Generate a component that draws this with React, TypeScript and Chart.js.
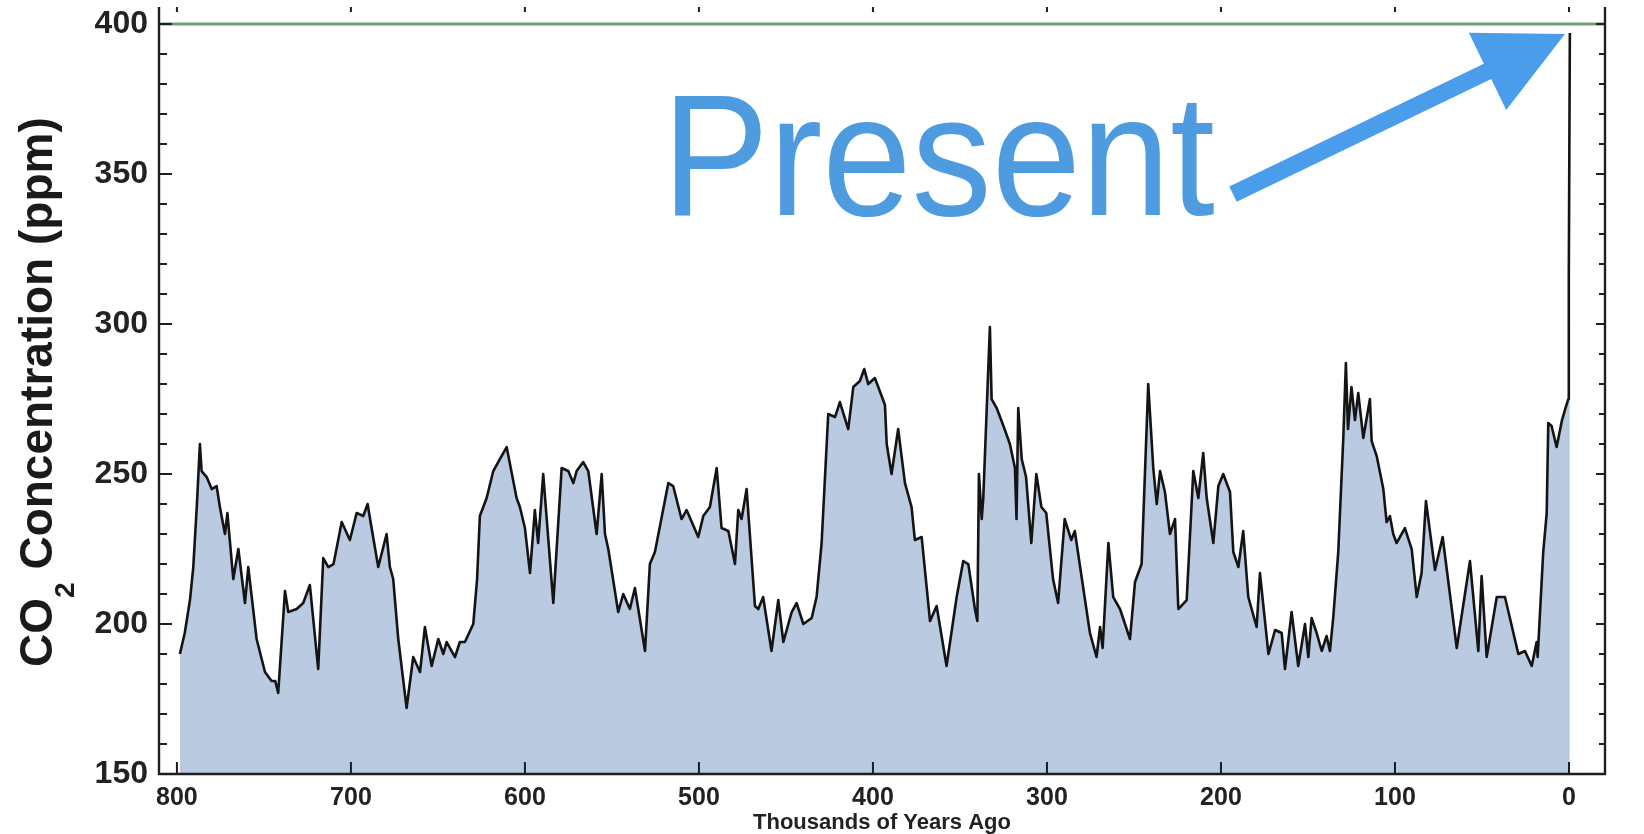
import React, { useEffect, useRef } from 'react';
import { Chart, registerables } from 'chart.js';

Chart.register(...registerables);

// ---- Data (thousands of years ago, CO2 ppm) ----
const AGES_KYR = [
  798.3, 795.5, 792.5, 790.6, 788.5, 786.8, 785.8, 782.9, 780.0, 777.2,
  775.3, 772.4, 771.0, 767.6, 764.7, 760.9, 759.0, 754.2, 749.4, 745.6,
  743.5, 741.8, 737.9, 736.0, 731.2, 727.4, 723.6, 718.8, 715.9, 713.0,
  710.0, 705.3, 700.6, 696.7, 692.9, 690.4, 689.0, 684.3, 679.5, 677.6,
  675.7, 672.8, 668.0, 664.2, 660.3, 657.5, 653.6, 649.8, 646.9, 645.0,
  640.2, 637.4, 634.5, 629.7, 627.5, 625.9, 622.0, 618.2, 614.4, 610.5,
  604.8, 602.9, 600.0, 597.1, 594.3, 592.4, 589.5, 583.7, 578.9, 575.1,
  572.2, 570.3, 566.5, 563.6, 558.8, 555.9, 554.0, 552.1, 546.4, 543.5,
  539.7, 536.8, 531.0, 528.2, 525.3, 517.6, 514.8, 510.0, 507.1, 500.4,
  497.5, 493.7, 489.8, 487.0, 483.1, 479.3, 477.4, 475.5, 472.6, 467.8,
  465.9, 463.1, 458.3, 454.4, 451.5, 446.7, 443.9, 440.0, 435.2, 432.4,
  429.5, 425.7, 421.8, 419.0, 414.2, 411.3, 407.5, 405.0, 402.7, 398.9,
  395.0, 393.1, 392.1, 389.3, 385.5, 381.6, 377.8, 375.9, 372.0, 367.2,
  363.4, 357.7, 351.9, 348.1, 345.2, 341.4, 340.0, 339.1, 337.5, 336.6,
  332.8, 331.8, 328.9, 325.0, 321.3, 318.4, 317.5, 316.5, 314.5, 312.0,
  309.0, 306.1, 303.2, 300.4, 296.5, 293.6, 289.8, 286.0, 284.0, 275.3,
  271.5, 269.5, 268.0, 264.7, 261.9, 258.0, 252.3, 249.4, 245.6, 241.8,
  238.9, 236.9, 235.0, 232.2, 229.3, 226.4, 224.5, 219.7, 215.9, 213.0,
  210.2, 208.2, 204.4, 201.5, 198.7, 194.8, 192.9, 190.0, 187.2, 184.3,
  179.5, 177.6, 172.7, 168.9, 165.1, 163.2, 159.4, 155.6, 151.7, 149.8,
  147.9, 145.0, 142.1, 139.3, 137.4, 135.5, 132.6, 129.7, 128.2, 127.0,
  125.0, 123.0, 121.1, 118.2, 114.4, 113.4, 110.5, 106.7, 104.8, 102.9,
  101.0, 99.1, 94.3, 90.4, 87.5, 84.7, 82.2, 77.0, 72.6, 64.5,
  56.9, 52.1, 50.2, 47.3, 41.5, 36.8, 29.1, 25.3, 21.4, 18.6,
  18.0, 14.8, 12.8, 11.9, 10.0, 7.1, 4.0, 2.0, 0.4, 0.2,
  0.1, 0.0, -0.5,
];

const CO2_PPM = [
  190, 197, 208, 219, 240, 260, 251, 249, 245, 246,
  239, 230, 237, 215, 225, 207, 219, 195, 184, 181,
  181, 177, 211, 204, 205, 207, 213, 185, 222, 219,
  220, 234, 228, 237, 236, 240, 235, 219, 230, 219,
  215, 195, 172, 189, 184, 199, 186, 195, 190, 194,
  189, 194, 194, 200, 215, 236, 242, 251, 255, 259,
  242, 239, 232, 217, 238, 227, 250, 207, 252, 251,
  247, 251, 254, 251, 230, 250, 230, 225, 204, 210,
  205, 212, 191, 220, 224, 247, 246, 235, 238, 229,
  236, 239, 252, 232, 231, 220, 238, 235, 245, 206,
  205, 209, 191, 208, 194, 204, 207, 200, 202, 209,
  227, 270, 269, 274, 265, 279, 281, 285, 280, 282,
  276, 273, 260, 250, 265, 247, 239, 228, 229, 201,
  206, 186, 209, 221, 220, 205, 201, 250, 235, 242,
  299, 275, 272, 266, 260, 252, 235, 272, 255, 249,
  227, 250, 239, 237, 215, 207, 235, 228, 231, 197,
  189, 199, 192, 227, 209, 205, 195, 214, 220, 280,
  252, 240, 251, 244, 230, 235, 205, 208, 251, 242,
  257, 242, 227, 246, 250, 244, 224, 219, 231, 209,
  199, 217, 190, 198, 197, 185, 204, 186, 200, 189,
  202, 197, 191, 196, 191, 202, 224, 262, 287, 265,
  279, 268, 277, 262, 275, 261, 256, 245, 234, 236,
  230, 227, 232, 225, 209, 217, 241, 218, 229, 192,
  221, 191, 216, 189, 209, 209, 190, 191, 186, 194,
  189, 224, 237, 267, 266, 259, 268, 272, 275, 282,
  314, 316, 397,
];

const X_TICKS = [800, 700, 600, 500, 400, 300, 200, 100, 0];
const Y_TICKS = [150, 200, 250, 300, 350, 400];
const Y_MINOR_STEP = 10;
const X_MIN = -20.7;
const X_MAX = 810.3;
const Y_MIN = 150;
const Y_MAX = 405.7;
const REF_LEVEL = 400;

const X_TITLE = 'Thousands of Years Ago';
const Y_TITLE_MAIN = 'CO';
const Y_TITLE_SUB = '2';
const Y_TITLE_REST = ' Concentration (ppm)';
const Y_TITLE_START_PPM = 185.7;
const NOTE_TEXT = 'Present';
// annotation anchors in data units: [age, ppm]
const NOTE_TEXT_AT = [521.3, 336.5];
const ARROW_FROM = [193.1, 343.3];
const ARROW_TO = [2.3, 396.7];

const FONT = "'Liberation Sans', Arial, Helvetica, sans-serif";

const framePlugin = {
  id: 'framePlugin',
  afterDatasetsDraw(chart: any) {
    const { ctx, chartArea } = chart;
    const xs = chart.scales.x;
    const ys = chart.scales.y;
    const { left, right, top, bottom } = chartArea;
    ctx.save();
    // frame
    ctx.strokeStyle = '#1e1e1e';
    ctx.lineWidth = 2.4;
    ctx.beginPath();
    ctx.moveTo(left, top);
    ctx.lineTo(left, bottom);
    ctx.lineTo(right, bottom);
    ctx.lineTo(right, top);
    ctx.stroke();

    // y ticks (inward), both sides
    ctx.lineWidth = 2;
    for (let v = Y_MIN; v <= REF_LEVEL; v += Y_MINOR_STEP) {
      const y = ys.getPixelForValue(v);
      const major = Y_TICKS.includes(v);
      ctx.beginPath();
      ctx.moveTo(left, y);
      ctx.lineTo(left + (major ? 13 : 8), y);
      ctx.moveTo(right, y);
      ctx.lineTo(right - (major ? 9 : 6), y);
      ctx.stroke();
    }
    // x ticks (inward), bottom and top
    for (const v of X_TICKS) {
      const x = xs.getPixelForValue(v);
      ctx.beginPath();
      ctx.moveTo(x, bottom);
      ctx.lineTo(x, bottom - 12);
      ctx.moveTo(x, top);
      ctx.lineTo(x, top + 5);
      ctx.stroke();
    }

    // y title with subscript
    ctx.fillStyle = '#1a1a1a';
    ctx.translate(52, ys.getPixelForValue(Y_TITLE_START_PPM));
    ctx.rotate(-Math.PI / 2);
    ctx.textAlign = 'left';
    ctx.textBaseline = 'alphabetic';
    ctx.font = `bold 46px ${FONT}`;
    const wMain = ctx.measureText(Y_TITLE_MAIN).width;
    ctx.fillText(Y_TITLE_MAIN, 0, 0);
    ctx.font = `bold 28px ${FONT}`;
    const wSub = ctx.measureText(Y_TITLE_SUB).width;
    ctx.fillText(Y_TITLE_SUB, wMain, 22);
    ctx.font = `bold 46px ${FONT}`;
    ctx.fillText(Y_TITLE_REST, wMain + wSub, 0);
    ctx.restore();

    // "Present" annotation
    ctx.save();
    const tx = xs.getPixelForValue(NOTE_TEXT_AT[0]);
    const ty = ys.getPixelForValue(NOTE_TEXT_AT[1]);
    ctx.fillStyle = '#4e9be0';
    ctx.font = `172px ${FONT}`;
    ctx.textAlign = 'left';
    ctx.textBaseline = 'alphabetic';
    const w = ctx.measureText(NOTE_TEXT).width;
    const sx = 553 / w;
    ctx.translate(tx, ty);
    ctx.scale(sx, 1);
    ctx.fillText(NOTE_TEXT, 0, 0);
    ctx.restore();

    // arrow
    ctx.save();
    const ax0 = xs.getPixelForValue(ARROW_FROM[0]);
    const ay0 = ys.getPixelForValue(ARROW_FROM[1]);
    const ax1 = xs.getPixelForValue(ARROW_TO[0]);
    const ay1 = ys.getPixelForValue(ARROW_TO[1]);
    const dx = ax1 - ax0;
    const dy = ay1 - ay0;
    const len = Math.hypot(dx, dy);
    const ux = dx / len;
    const uy = dy / len;
    const px = -uy;
    const py = ux;
    const headLen = 86;
    const headHalf = 43;
    const shaftHalf = 8.5;
    const bx = ax1 - ux * headLen;
    const by = ay1 - uy * headLen;
    ctx.fillStyle = '#4a9dea';
    ctx.beginPath();
    ctx.moveTo(ax0 + px * shaftHalf, ay0 + py * shaftHalf);
    ctx.lineTo(bx + px * shaftHalf, by + py * shaftHalf);
    ctx.lineTo(bx + px * headHalf, by + py * headHalf);
    ctx.lineTo(ax1, ay1);
    ctx.lineTo(bx - px * headHalf, by - py * headHalf);
    ctx.lineTo(bx - px * shaftHalf, by - py * shaftHalf);
    ctx.lineTo(ax0 - px * shaftHalf, ay0 - py * shaftHalf);
    ctx.closePath();
    ctx.fill();
    ctx.restore();
  },
};

export default function App() {
  const canvasRef = useRef<HTMLCanvasElement | null>(null);

  useEffect(() => {
    const canvas = canvasRef.current;
    if (!canvas) return;
    const series = AGES_KYR.map((a, i) => ({ x: a, y: CO2_PPM[i] }));
    const refLine = [
      { x: X_MIN, y: REF_LEVEL },
      { x: X_MAX, y: REF_LEVEL },
    ];
    const chart = new Chart(canvas, {
      type: 'line',
      data: {
        datasets: [
          {
            label: 'CO2',
            data: series,
            borderColor: '#141414',
            borderWidth: 2.6,
            borderJoinStyle: 'round',
            backgroundColor: '#b9cae1',
            fill: 'start',
            pointRadius: 0,
            tension: 0,
          },
          {
            label: 'ref',
            data: refLine,
            borderColor: '#739c7a',
            borderWidth: 3,
            fill: false,
            pointRadius: 0,
          },
        ],
      },
      options: {
        responsive: false,
        animation: false,
        devicePixelRatio: 1,
        layout: { padding: { top: 7, right: 39, left: 0, bottom: 0 } },
        plugins: {
          legend: { display: false },
          tooltip: { enabled: false },
        },
        scales: {
          x: {
            type: 'linear',
            reverse: true,
            min: X_MIN,
            max: X_MAX,
            afterBuildTicks: (scale: any) => {
              scale.ticks = X_TICKS.map((v) => ({ value: v }));
            },
            afterFit: (scale: any) => {
              scale.height = 60;
              scale.paddingLeft = 0;
              scale.paddingRight = 0;
            },
            grid: { display: false, drawTicks: false },
            border: { display: false },
            ticks: {
              autoSkip: false,
              maxRotation: 0,
              padding: 9,
              color: '#222',
              font: { family: FONT, size: 25, weight: 'bold' },
            },
            title: {
              display: true,
              text: X_TITLE,
              color: '#222',
              font: { family: FONT, size: 22, weight: 'bold', lineHeight: 1 },
              padding: { top: 0, bottom: 0 },
            },
          },
          y: {
            type: 'linear',
            min: Y_MIN,
            max: Y_MAX,
            afterBuildTicks: (scale: any) => {
              scale.ticks = Y_TICKS.map((v) => ({ value: v }));
            },
            afterFit: (scale: any) => {
              scale.width = 159;
              scale.paddingTop = 0;
              scale.paddingBottom = 0;
            },
            grid: { display: false, drawTicks: false },
            border: { display: false },
            ticks: {
              autoSkip: false,
              padding: 11,
              color: '#222',
              font: { family: FONT, size: 32, weight: 'bold' },
            },
          },
        },
      },
      plugins: [framePlugin],
    });
    return () => chart.destroy();
  }, []);

  return (
    <div style={{ position: 'fixed', left: 0, top: 0, width: 1644, height: 834, background: '#fff' }}>
      <canvas ref={canvasRef} width={1644} height={834} style={{ width: 1644, height: 834, display: 'block' }} />
    </div>
  );
}
